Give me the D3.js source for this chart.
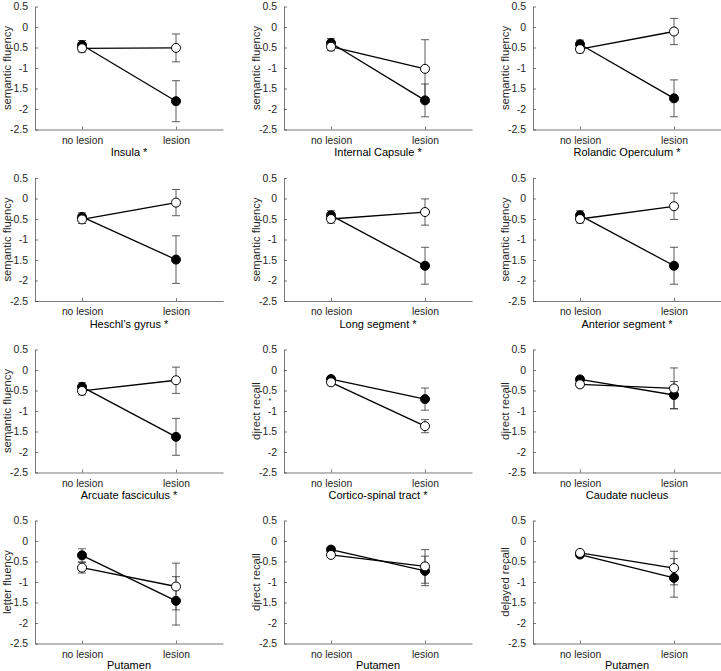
<!DOCTYPE html>
<html>
<head>
<meta charset="utf-8">
<script src="https://cdn.jsdelivr.net/npm/d3@7"></script>
<style>
  html, body { margin: 0; padding: 0; background: #fff; }
  svg { display: block; font-family: "Liberation Sans", Arial, Helvetica, sans-serif; }
</style>
</head>
<body>
<svg id="chart" width="721" height="671"></svg>
<script>
// ---- data ----
const panelTitles = ["Insula *", "Internal Capsule *", "Rolandic Operculum *",
  "Heschl\u2019s gyrus *", "Long segment *", "Anterior segment *",
  "Arcuate fasciculus *", "Cortico-spinal tract *", "Caudate nucleus",
  "Putamen", "Putamen", "Putamen"];
const yLabels = ["semantic fluency", "semantic fluency", "semantic fluency",
  "semantic fluency", "semantic fluency", "semantic fluency",
  "semantic fluency", "direct recall", "direct recall",
  "letter fluency", "direct recall", "delayed recall"];
const categories = ["no lesion", "lesion"];
const yTicks = [0.5, 0, -0.5, -1, -1.5, -2, -2.5];
const yTickLabels = ["0.5", "0", "-0.5", "-1", "-1.5", "-2", "-2.5"];

// filled (black) series
const filledNoLesion = [-0.44, -0.39, -0.42, -0.45, -0.41, -0.41, -0.41, -0.22, -0.23, -0.35, -0.21, -0.33];
const filledLesion   = [-1.81, -1.79, -1.74, -1.49, -1.64, -1.64, -1.63, -0.71, -0.61, -1.46, -0.73, -0.90];
const filledErrNo    = [0.11, 0.11, 0.10, 0.10, 0.11, 0.11, 0.10, 0.06, 0.06, 0.16, 0.06, 0.05];
const filledErrLes   = [0.50, 0.40, 0.45, 0.58, 0.45, 0.45, 0.45, 0.27, 0.33, 0.59, 0.36, 0.47];
// open (white) series
const openNoLesion = [-0.52, -0.48, -0.54, -0.51, -0.50, -0.50, -0.51, -0.30, -0.35, -0.65, -0.34, -0.29];
const openLesion   = [-0.51, -1.02, -0.11, -0.10, -0.33, -0.19, -0.25, -1.37, -0.45, -1.11, -0.62, -0.66];
const openErrNo    = [0.09, 0.10, 0.09, 0.10, 0.10, 0.10, 0.10, 0.07, 0.07, 0.13, 0.06, 0.06];
const openErrLes   = [0.34, 0.71, 0.32, 0.32, 0.32, 0.32, 0.32, 0.16, 0.50, 0.57, 0.41, 0.41];

// ---- layout ----
const svg = d3.select("#chart");
const colLeft = [35, 284, 533];
const rowTop = [6.5, 178, 349.5, 520.5];
const pw = 188, ph = 123;
const axisColor = "#404040";
const textColor = "#262626";

panelTitles.forEach((title, i) => {
  const r = Math.floor(i / 3), c = i % 3;
  const g = svg.append("g").attr("transform", `translate(${colLeft[c]},${rowTop[r]})`);
  const x = d3.scaleLinear().domain([0.5, 2.5]).range([0, pw]);
  const y = d3.scaleLinear().domain([-2.5, 0.5]).range([ph, 0]);

  // y axis
  const yAxis = d3.axisLeft(y).tickValues(yTicks)
    .tickFormat((d, k) => yTickLabels[k]).tickSizeInner(-3).tickSizeOuter(0).tickPadding(7);
  const ya = g.append("g").call(yAxis);
  ya.select(".domain").attr("stroke", axisColor).attr("stroke-width", 0.7);
  ya.selectAll(".tick line").attr("stroke", axisColor).attr("stroke-width", 0.7);
  ya.selectAll(".tick text").attr("fill", textColor).attr("font-size", 10.5)
    .attr("font-family", "Liberation Sans, Arial, sans-serif");

  // x axis
  const xAxis = d3.axisBottom(x).tickValues([1, 2])
    .tickFormat((d, k) => categories[k]).tickSizeInner(-3).tickSizeOuter(0).tickPadding(7);
  const xa = g.append("g").attr("transform", `translate(0,${ph})`).call(xAxis);
  xa.select(".domain").attr("stroke", axisColor).attr("stroke-width", 0.7);
  xa.selectAll(".tick line").attr("stroke", axisColor).attr("stroke-width", 0.7);
  xa.selectAll(".tick text").attr("fill", textColor).attr("font-size", 10.3)
    .attr("font-family", "Liberation Sans, Arial, sans-serif");

  // labels
  g.append("text").attr("x", pw / 2).attr("y", ph + (r === 3 ? 25 : 26.5))
    .attr("text-anchor", "middle").attr("font-size", 11).attr("fill", "#000")
    .text(title);
  g.append("text").attr("transform", `translate(-24.5,${ph / 2}) rotate(-90)`)
    .attr("text-anchor", "middle").attr("font-size", 11.3).attr("fill", textColor)
    .text(yLabels[i]);
  if (i === 7) {
    g.append("text").attr("x", -14).attr("y", y(-0.8))
      .attr("text-anchor", "middle").attr("font-size", 7.5).attr("fill", textColor).text("*");
  }

  const series = [
    { vals: [filledNoLesion[i], filledLesion[i]], errs: [filledErrNo[i], filledErrLes[i]], fill: "#000" },
    { vals: [openNoLesion[i], openLesion[i]], errs: [openErrNo[i], openErrLes[i]], fill: "#fff" }
  ];
  const line = d3.line().x((d, k) => x(k + 1)).y(d => y(d));

  series.forEach(s => {
    // error bars
    s.vals.forEach((v, k) => {
      const cx = x(k + 1), e = s.errs[k];
      const eg = g.append("g").attr("stroke", "#333").attr("stroke-width", 0.8);
      eg.append("line").attr("x1", cx).attr("x2", cx).attr("y1", y(v - e)).attr("y2", y(v + e));
      eg.append("line").attr("x1", cx - 4).attr("x2", cx + 4).attr("y1", y(v - e)).attr("y2", y(v - e));
      eg.append("line").attr("x1", cx - 4).attr("x2", cx + 4).attr("y1", y(v + e)).attr("y2", y(v + e));
    });
    g.append("path").datum(s.vals).attr("d", line)
      .attr("fill", "none").attr("stroke", "#000").attr("stroke-width", 1.3);
  });
  series.forEach(s => {
    g.selectAll(null).data(s.vals).enter().append("circle")
      .attr("cx", (d, k) => x(k + 1)).attr("cy", d => y(d)).attr("r", 4.5)
      .attr("fill", s.fill).attr("stroke", "#000").attr("stroke-width", 1);
  });
});
</script>
</body>
</html>
